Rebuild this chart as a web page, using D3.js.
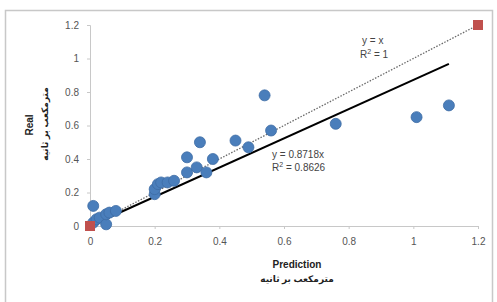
<!DOCTYPE html>
<html>
<head>
<meta charset="utf-8">
<script src="https://cdn.jsdelivr.net/npm/d3@7"></script>
<style>
  body { margin: 0; background: #fff; }
  svg { display: block; }
  text { font-family: "Liberation Sans", "DejaVu Sans", sans-serif; }
</style>
</head>
<body>
<svg id="chart"></svg>
<script>
// observed vs predicted (cubic metres per second)
const predicted = [0.01, 0.01, 0.02, 0.03, 0.05, 0.05, 0.06, 0.08, 0.2, 0.2, 0.21, 0.22, 0.24, 0.26, 0.3, 0.3, 0.33, 0.34, 0.36, 0.38, 0.45, 0.49, 0.54, 0.56, 0.76, 1.01, 1.11];
const real      = [0.12, 0.02, 0.04, 0.05, 0.01, 0.07, 0.08, 0.09, 0.19, 0.22, 0.25, 0.26, 0.26, 0.27, 0.41, 0.32, 0.35, 0.5, 0.32, 0.4, 0.51, 0.47, 0.78, 0.57, 0.61, 0.65, 0.72];
// reference series (1:1 line end points)
const refX = [0, 1.2];
const refY = [0, 1.2];
const ticks = [0, 0.2, 0.4, 0.6, 0.8, 1, 1.2];
const slope = 0.8718;
const fitEnd = 1.11;
const unitLabel = "مترمکعب بر ثانیه";

function main() {
    const W = 497, H = 302;
    const svg = d3.select("svg#chart").attr("width", W).attr("height", H);

    // chart frame
    svg.append("path")
        .attr("d", "M5.5,302 V10.5 H492.5 V302")
        .attr("fill", "none")
        .attr("stroke", "#c8c8c8")
        .attr("stroke-width", 1.5);

    const x = d3.scaleLinear().domain([0, 1.2]).range([90, 478]);
    const y = d3.scaleLinear().domain([0, 1.2]).range([226, 25]);

    const xAxis = svg.append("g")
        .attr("transform", "translate(0," + y(0) + ")")
        .call(d3.axisBottom(x).tickValues(ticks).tickSize(3).tickPadding(9).tickFormat(d3.format("")));
    const yAxis = svg.append("g")
        .attr("transform", "translate(" + x(0) + ",0)")
        .call(d3.axisLeft(y).tickValues(ticks).tickSize(3).tickPadding(8).tickFormat(d3.format("")));

    [xAxis, yAxis].forEach(a => {
        a.select(".domain").attr("stroke", "#c8c8c8");
        a.selectAll(".tick line").attr("stroke", "#c8c8c8");
        a.selectAll(".tick text")
            .attr("fill", "#555")
            .attr("font-size", 10)
            .attr("font-family", "Liberation Sans, sans-serif");
    });

    // 1:1 trend (dotted)
    svg.append("line")
        .attr("x1", x(refX[0])).attr("y1", y(refY[0]))
        .attr("x2", x(refX[1])).attr("y2", y(refY[1]))
        .attr("stroke", "#6a6a6a")
        .attr("stroke-width", 1.3)
        .attr("stroke-dasharray", "1.5,1.5");

    // fitted trend through origin
    svg.append("line")
        .attr("x1", x(0)).attr("y1", y(0))
        .attr("x2", x(fitEnd)).attr("y2", y(slope * fitEnd))
        .attr("stroke", "#000")
        .attr("stroke-width", 2);

    // observations
    svg.append("g").selectAll("circle")
        .data(predicted.map((p, i) => [p, real[i]]))
        .join("circle")
        .attr("cx", d => x(d[0]))
        .attr("cy", d => y(d[1]))
        .attr("r", 5.5)
        .attr("fill", "#4a7ebb")
        .attr("stroke", "#3d6ca5")
        .attr("stroke-width", 0.8);

    // reference squares
    svg.append("g").selectAll("rect")
        .data(refX.map((p, i) => [p, refY[i]]))
        .join("rect")
        .attr("x", d => x(d[0]) - 5)
        .attr("y", d => y(d[1]) - 5)
        .attr("width", 10)
        .attr("height", 10)
        .attr("fill", "#c0504d");

    const lbl = (t, px, py, opts = {}) => svg.append("text")
        .attr("x", px).attr("y", py)
        .attr("font-size", opts.size || 10)
        .attr("font-weight", opts.bold ? "bold" : null)
        .attr("text-anchor", opts.anchor || "start")
        .attr("fill", opts.fill || "#444")
        .attr("transform", opts.rot ? "rotate(-90," + px + "," + py + ")" : null)
        .text(t);

    // trendline equations
    lbl("y = x", 362, 44);
    const t2 = svg.append("text").attr("x", 360).attr("y", 58).attr("font-size", 10).attr("fill", "#444");
    t2.append("tspan").text("R");
    t2.append("tspan").attr("font-size", 7).attr("dy", -4).text("2");
    t2.append("tspan").attr("dy", 4).text(" = 1");

    lbl("y = 0.8718x", 272, 158);
    const t4 = svg.append("text").attr("x", 272).attr("y", 171).attr("font-size", 10).attr("fill", "#444");
    t4.append("tspan").text("R");
    t4.append("tspan").attr("font-size", 7).attr("dy", -4).text("2");
    t4.append("tspan").attr("dy", 4).text(" = 0.8626");

    // axis titles
    lbl("Prediction", 297, 268, { bold: true, anchor: "middle", size: 10, fill: "#222" });
    svg.append("text")
        .attr("x", 297).attr("y", 282)
        .attr("text-anchor", "middle")
        .attr("font-size", 9)
        .attr("font-weight", "bold")
        .attr("font-family", "DejaVu Sans, sans-serif")
        .attr("fill", "#222")
        .text(unitLabel);

    lbl("Real", 33, 125, { bold: true, anchor: "middle", size: 10, rot: true, fill: "#222" });
    svg.append("text")
        .attr("x", 48).attr("y", 124)
        .attr("text-anchor", "middle")
        .attr("font-size", 9)
        .attr("font-weight", "bold")
        .attr("font-family", "DejaVu Sans, sans-serif")
        .attr("fill", "#222")
        .attr("transform", "rotate(-90,48,124)")
        .text(unitLabel);
}

main()
</script>
</body>
</html>
